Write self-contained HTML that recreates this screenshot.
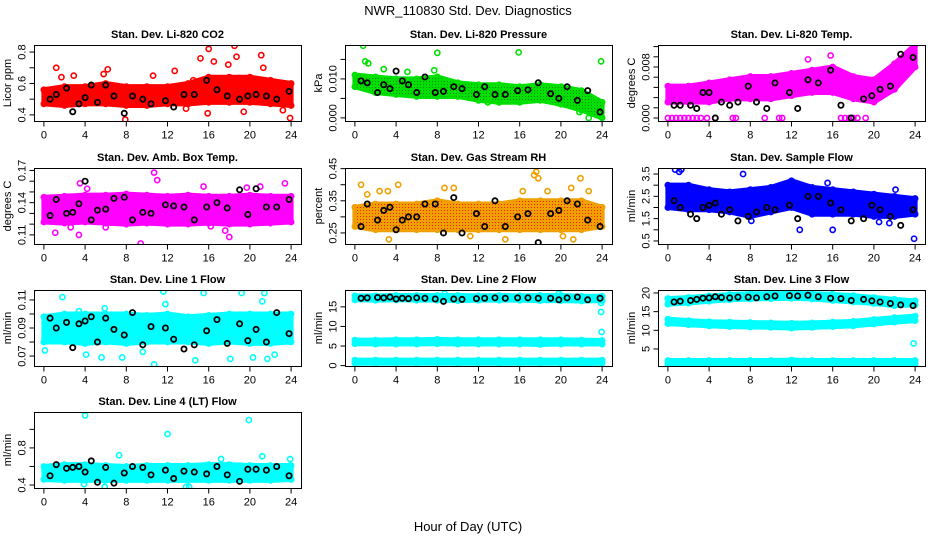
<!DOCTYPE html>
<html><head><meta charset="utf-8">
<style>
html,body{margin:0;padding:0;background:#fff;}
svg{display:block;font-family:"Liberation Sans",Arial,sans-serif;}
</style></head>
<body>
<svg id="chart" width="936" height="540" viewBox="0 0 936 540" xmlns="http://www.w3.org/2000/svg">
<text x="468" y="15" text-anchor="middle" font-size="13">NWR_110830  Std. Dev. Diagnostics</text>
<text x="468" y="531" text-anchor="middle" font-size="13">Hour of Day (UTC)</text>
</svg>
<script>
// ---- shared data ----
const bandHours = [0,2,4,6,8,10,12,14,16,18,20,22,24];
const blkHours = [0.6,1.2,2.2,2.8,3.4,4.0,4.6,5.2,6.0,6.8,7.8,8.6,9.6,10.4,11.8,12.6,13.6,14.6,15.8,16.8,17.8,19.0,19.8,20.6,21.6,22.6,23.8];
const xTicks = [0,4,8,12,16,20,24];

// P1 CO2
const p1Hi = [0.56,0.58,0.58,0.60,0.58,0.58,0.58,0.60,0.64,0.64,0.64,0.62,0.60];
const p1Lo = [0.47,0.46,0.47,0.47,0.46,0.46,0.47,0.47,0.48,0.48,0.48,0.47,0.46];
const p1OutX = [1.2,1.7,2.9,6.2,7.9,10.6,12.7,13.8,15.2,15.9,16.0,16.5,18.5,18.7,19.4,21.1,21.3,23.2,23.9,5.8,14.5,17.9];
const p1OutY = [0.70,0.64,0.65,0.69,0.37,0.65,0.68,0.44,0.76,0.41,0.82,0.74,0.84,0.77,0.42,0.78,0.70,0.43,0.38,0.66,0.62,0.72];
const p1Blk = [0.50,0.53,0.57,0.42,0.47,0.51,0.59,0.48,0.59,0.52,0.41,0.52,0.50,0.47,0.49,0.45,0.53,0.53,0.62,0.56,0.52,0.50,0.52,0.53,0.52,0.50,0.55];
// P2 pressure
const p2Hi = [0.0110,0.0105,0.0100,0.0100,0.0105,0.0090,0.0085,0.0085,0.0080,0.0085,0.0080,0.0070,0.0040];
const p2Lo = [0.0080,0.0065,0.0060,0.0055,0.0055,0.0055,0.0045,0.0040,0.0040,0.0045,0.0035,0.0020,0.0000];
const p2OutX = [0.8,1.0,1.3,2.8,5.1,7.7,8.0,15.9,23.9,21.8,22.7,12.9];
const p2OutY = [0.0185,0.0145,0.0140,0.0125,0.0118,0.0122,0.0167,0.0168,0.0145,0.0015,0.0,0.0040];
const p2Blk = [0.0095,0.0090,0.0065,0.0085,0.0075,0.0120,0.0095,0.0085,0.0065,0.0105,0.0065,0.0068,0.0080,0.0075,0.0060,0.0080,0.0060,0.0060,0.0070,0.0072,0.0090,0.0062,0.0050,0.0080,0.0045,0.0070,0.0015];
// P3 temp
const p3Hi = [0.0050,0.0050,0.0055,0.0060,0.0065,0.0065,0.0070,0.0075,0.0080,0.0065,0.0060,0.0085,0.0115];
const p3Lo = [0.0025,0.0025,0.0025,0.0030,0.0030,0.0030,0.0035,0.0040,0.0040,0.0030,0.0025,0.0045,0.0080];
const p3OutX = [0,0.4,0.8,1.2,1.6,2.0,2.4,2.8,3.2,3.8,4.6,6.3,6.6,9.4,10.8,11.1,16.8,17.2,17.6,18.0,18.4,19.2,15.8,13.6,22.8,23.9];
const p3OutY = [0,0,0,0,0,0,0,0,0,0,0,0,0,0,0,0,0,0,0,0,0,0,0.0098,0.0092,0.0125,0.0110];
const p3Blk = [0.0020,0.0020,0.0020,0.0015,0.0040,0.0040,0.0000,0.0025,0.0020,0.0025,0.0050,0.0025,0.0015,0.0055,0.0040,0.0015,0.0060,0.0055,0.0075,0.0020,0.0000,0.0030,0.0035,0.0045,0.0050,0.0100,0.0095];
// P4 amb box temp
const p4Hi = [0.145,0.146,0.147,0.147,0.148,0.147,0.146,0.147,0.146,0.146,0.147,0.146,0.146];
const p4Lo = [0.122,0.121,0.122,0.121,0.120,0.121,0.120,0.120,0.121,0.120,0.120,0.121,0.122];
const p4OutX = [3.5,4.2,1.1,10.7,11.0,9.4,3.4,18.0,17.6,16.2,21.0,23.4,19.7,6.0,2.6,15.5];
const p4OutY = [0.158,0.153,0.112,0.168,0.161,0.102,0.110,0.108,0.114,0.118,0.155,0.158,0.154,0.117,0.117,0.155];
const p4Blk = [0.128,0.143,0.130,0.131,0.139,0.160,0.124,0.133,0.134,0.144,0.145,0.124,0.131,0.130,0.138,0.137,0.136,0.124,0.136,0.140,0.135,0.152,0.129,0.153,0.136,0.136,0.143];
// P5 RH
const p5Hi = [0.33,0.34,0.34,0.34,0.35,0.34,0.34,0.34,0.35,0.35,0.35,0.35,0.33];
const p5Lo = [0.27,0.26,0.26,0.26,0.26,0.26,0.26,0.26,0.26,0.26,0.26,0.26,0.27];
const p5OutX = [0.6,1.2,2.4,3.2,4.2,3.3,8.7,9.6,11.2,14.6,16.3,17.4,17.6,17.8,18.7,21.0,21.9,22.7,20.2,21.2];
const p5OutY = [0.40,0.37,0.38,0.38,0.40,0.23,0.39,0.39,0.24,0.23,0.38,0.43,0.44,0.42,0.38,0.39,0.42,0.38,0.24,0.23];
const p5Blk = [0.27,0.34,0.29,0.32,0.33,0.26,0.29,0.30,0.30,0.34,0.34,0.25,0.36,0.25,0.31,0.27,0.35,0.27,0.30,0.31,0.22,0.31,0.32,0.35,0.34,0.29,0.27];
// P6 sample flow
const p6Hi = [3.0,3.0,2.8,2.7,2.8,2.9,3.2,2.9,2.8,2.7,2.6,2.5,2.4];
const p6Lo = [2.0,1.9,1.9,1.8,1.6,1.8,2.0,1.7,1.7,1.7,1.6,1.6,1.7];
const p6OutX = [0.7,1.1,1.3,7.3,8.1,12.8,16.0,15.5,23.9,22.1,20.5,21.5];
const p6OutY = [3.7,3.6,3.7,3.5,1.4,1.0,1.0,3.1,0.6,2.8,1.35,1.3];
const p6Blk = [2.3,2.0,1.7,1.5,2.0,2.1,2.2,1.7,1.9,1.4,1.6,1.8,2.0,1.9,2.1,1.5,2.5,2.5,2.2,1.9,1.4,1.5,2.1,1.9,1.6,1.2,1.9];
// P7 line 1
const p7Hi = [0.098,0.100,0.100,0.100,0.100,0.099,0.100,0.098,0.099,0.100,0.100,0.100,0.100];
const p7Lo = [0.080,0.080,0.079,0.080,0.079,0.080,0.080,0.080,0.079,0.080,0.079,0.079,0.080];
const p7OutX = [1.8,3.4,5.9,11.6,11.8,15.5,19.2,21.4,21.2,10.7,5.6,7.6,14.7,18.1,20.3,21.7,0.1,4.1,9.6,22.4];
const p7OutY = [0.112,0.102,0.104,0.116,0.107,0.115,0.115,0.115,0.109,0.064,0.069,0.069,0.067,0.068,0.069,0.068,0.074,0.071,0.073,0.071];
const p7Blk = [0.097,0.090,0.094,0.076,0.093,0.095,0.098,0.080,0.097,0.089,0.085,0.101,0.078,0.091,0.090,0.082,0.075,0.078,0.088,0.096,0.079,0.093,0.081,0.089,0.080,0.101,0.086];
// P8 line 2
const p8TopHi = [17.8,17.8,17.9,17.9,17.9,17.9,17.8,17.9,17.8,17.9,17.9,17.7,17.7];
const p8TopLo = [16.8,16.7,16.8,16.7,16.7,16.6,16.7,16.7,16.7,16.6,16.6,16.5,16.6];
const p8MidHi = [6.5,6.5,6.6,6.6,6.7,6.6,6.6,6.6,6.6,6.6,6.6,6.5,6.4];
const p8MidLo = [5.6,5.5,5.5,5.5,5.6,5.5,5.5,5.5,5.5,5.4,5.5,5.5,5.5];
const p8LowHi = [1.4,1.4,1.4,1.4,1.4,1.4,1.4,1.4,1.4,1.4,1.4,1.4,1.4];
const p8LowLo = [0.6,0.6,0.6,0.6,0.6,0.6,0.6,0.6,0.6,0.6,0.6,0.5,0.6];
const p8OutX = [8.7,19.8,23.9,23.9,23.95];
const p8OutY = [18.4,18.4,16.0,13.7,8.6];
const p8Blk = [17.2,17.3,17.4,17.3,17.5,17.0,17.2,17.1,17.3,17.2,17.0,16.4,17.0,16.9,17.1,17.2,17.3,17.2,17.3,17.3,17.2,17.2,16.8,17.3,17.5,16.8,17.2];
// P9 line 3
const p9TopHi = [18.5,18.8,19.2,19.6,19.8,19.8,19.9,19.8,19.6,19.3,18.8,18.3,17.9];
const p9TopLo = [17.0,17.3,17.8,18.2,18.4,18.5,18.6,18.4,18.0,17.6,17.2,16.6,16.8];
const p9MidHi = [13.0,12.6,12.3,12.2,12.1,12.0,11.9,12.0,12.2,12.4,12.9,13.4,13.8];
const p9MidLo = [11.8,11.5,11.2,11.0,10.9,10.8,10.6,10.8,11.0,11.2,11.7,12.2,12.6];
const p9LowHi = [1.9,1.9,1.9,1.9,1.9,1.9,2.0,1.9,1.9,1.9,1.9,1.9,1.9];
const p9LowLo = [1.0,1.0,1.0,1.0,1.0,1.0,1.0,1.0,1.0,1.0,1.0,0.9,1.0];
const p9OutX = [23.9,23.85,15.9];
const p9OutY = [13.0,6.5,19.6];
const p9Blk = [17.6,17.8,18.0,18.3,18.6,18.7,19.0,18.8,18.7,18.9,18.9,18.7,19.0,19.2,19.3,19.2,19.4,19.0,18.6,18.5,18.0,18.3,17.9,17.6,17.2,16.8,16.6];
// P10 line 4
const p10Hi = [0.60,0.62,0.62,0.61,0.60,0.61,0.61,0.61,0.62,0.62,0.61,0.61,0.61];
const p10Lo = [0.46,0.45,0.45,0.45,0.45,0.45,0.45,0.45,0.45,0.45,0.45,0.45,0.46];
const p10OutX = [4.0,12.0,19.9,7.3,21.2,23.9,5.9,13.8,14.1,3.9,17.2];
const p10OutY = [1.15,0.95,1.10,0.72,0.71,0.68,0.38,0.38,0.38,0.41,0.68];
const p10Blk = [0.50,0.62,0.58,0.59,0.60,0.54,0.66,0.43,0.59,0.42,0.53,0.60,0.59,0.51,0.56,0.47,0.55,0.54,0.52,0.60,0.51,0.44,0.57,0.57,0.56,0.60,0.50];

const panels = [
 {name:'co2',title:'Stan. Dev. Li-820 CO2',ylab:'Licor ppm',L:34,T:45,ymin:0.361,ymax:0.845,ticks:[0.4,0.5,0.6,0.7,0.8],labels:['0.4','','0.6','','0.8'],col:'#ff0000',bands:[[p1Hi,p1Lo]],ox:p1OutX,oy:p1OutY,blk:p1Blk},
 {name:'pressure',title:'Stan. Dev. Li-820 Pressure',ylab:'kPa',L:345,T:45,ymin:-0.0008,ymax:0.0187,ticks:[0,0.005,0.010,0.015],labels:['0.000','','0.010',''],col:'#00e000',bands:[[p2Hi,p2Lo]],ox:p2OutX,oy:p2OutY,blk:p2Blk},
 {name:'temp',title:'Stan. Dev. Li-820 Temp.',ylab:'degrees C',L:658,T:45,ymin:-0.00047,ymax:0.01145,ticks:[0,0.0016,0.0032,0.0048,0.0064,0.008,0.0096,0.0112],labels:['0.000','','','','','0.008','',''],col:'#ff00ff',bands:[[p3Hi,p3Lo]],ox:p3OutX,oy:p3OutY,blk:p3Blk},
 {name:'amb-box-temp',title:'Stan. Dev. Amb. Box Temp.',ylab:'degrees C',L:34,T:168,ymin:0.1015,ymax:0.1723,ticks:[0.11,0.12,0.13,0.14,0.15,0.16,0.17],labels:['0.11','','','0.14','','','0.17'],col:'#ff00ff',bands:[[p4Hi,p4Lo]],ox:p4OutX,oy:p4OutY,blk:p4Blk},
 {name:'gas-rh',title:'Stan. Dev. Gas Stream RH',ylab:'percent',L:345,T:168,ymin:0.2156,ymax:0.452,ticks:[0.25,0.30,0.35,0.40,0.45],labels:['0.25','','0.35','','0.45'],col:'#f0a000',bands:[[p5Hi,p5Lo]],ox:p5OutX,oy:p5OutY,blk:p5Blk},
 {name:'sample-flow',title:'Stan. Dev. Sample Flow',ylab:'ml/min',L:658,T:168,ymin:0.364,ymax:3.77,ticks:[0.5,1,1.5,2,2.5,3,3.5],labels:['0.5','','1.5','','2.5','','3.5'],col:'#0000ff',bands:[[p6Hi,p6Lo]],ox:p6OutX,oy:p6OutY,blk:p6Blk},
 {name:'line1-flow',title:'Stan. Dev. Line 1 Flow',ylab:'ml/min',L:34,T:290,ymin:0.0629,ymax:0.1171,ticks:[0.07,0.08,0.09,0.10,0.11],labels:['0.07','','0.09','','0.11'],col:'#00ffff',bands:[[p7Hi,p7Lo]],ox:p7OutX,oy:p7OutY,blk:p7Blk},
 {name:'line2-flow',title:'Stan. Dev. Line 2 Flow',ylab:'ml/min',L:345,T:290,ymin:-0.1,ymax:19.3,ticks:[0,5,10,15],labels:['0','5','10','15'],col:'#00ffff',bands:[[p8TopHi,p8TopLo],[p8MidHi,p8MidLo],[p8LowHi,p8LowLo]],ox:p8OutX,oy:p8OutY,blk:p8Blk},
 {name:'line3-flow',title:'Stan. Dev. Line 3 Flow',ylab:'ml/min',L:658,T:290,ymin:0.44,ymax:20.8,ticks:[5,10,15,20],labels:['5','10','15','20'],col:'#00ffff',bands:[[p9TopHi,p9TopLo],[p9MidHi,p9MidLo],[p9LowHi,p9LowLo]],ox:p9OutX,oy:p9OutY,blk:p9Blk},
 {name:'line4-flow',title:'Stan. Dev. Line 4 (LT) Flow',ylab:'ml/min',L:34,T:412,ymin:0.368,ymax:1.187,ticks:[0.4,0.6,0.8,1.0],labels:['0.4','','0.8',''],col:'#00ffff',bands:[[p10Hi,p10Lo]],ox:p10OutX,oy:p10OutY,blk:p10Blk}
];

const NS='http://www.w3.org/2000/svg';
const svg=document.getElementById('chart');
const W=267,H=76,XMIN=-0.96,XMAX=24.96;
function mk(tag,attrs,parent){const e=document.createElementNS(NS,tag);for(const k in attrs)e.setAttribute(k,attrs[k]);parent.appendChild(e);return e;}

panels.forEach(p=>{
  const g=mk('g',{},svg);
  
  
  const xs=v=>p.L+(v-XMIN)/(XMAX-XMIN)*W;
  const ys=v=>p.T+H-(v-p.ymin)/(p.ymax-p.ymin)*H;
  const clipId='clip-'+p.name;
  const cp=mk('clipPath',{id:clipId},g);
  mk('rect',{x:p.L,y:p.T,width:W,height:H},cp);
  const plot=mk('g',{'clip-path':'url(#'+clipId+')'},g);
  
  
  // bands
  p.bands.forEach((b,bi)=>{
    const hi=b[0],lo=b[1];
    let pts=[];
    bandHours.forEach((h,i)=>pts.push(xs(h)+','+ys(hi[i])));
    for(let i=bandHours.length-1;i>=0;i--)pts.push(xs(bandHours[i])+','+ys(lo[i]));
    const poly=mk('polygon',{points:pts.join(' '),fill:p.col,stroke:p.col,'stroke-width':5,'stroke-linejoin':'round'},plot);
    
    
    bandHours.forEach((h,i)=>{
      [hi[i],lo[i]].forEach(v=>{
        const c=mk('circle',{cx:xs(h),cy:ys(v),r:2.6,fill:'none',stroke:p.col,'stroke-width':1.6},plot);
        
        
      });
    });
  });
  if(p.name==='pressure'||p.name==='gas-rh'){
    const tex=p.name==='pressure'?'#118811':'#ff2000';
    const pid='pat-'+p.name;
    const pat=mk('pattern',{id:pid,width:3,height:3,patternUnits:'userSpaceOnUse'},g);
    mk('rect',{x:0,y:0,width:1,height:1,fill:tex},pat);
    p.bands.forEach(b=>{
      let pts=[];
      bandHours.forEach((h,i)=>pts.push(xs(h)+','+ys(b[0][i])));
      for(let i=bandHours.length-1;i>=0;i--)pts.push(xs(bandHours[i])+','+ys(b[1][i]));
      const poly=mk('polygon',{points:pts.join(' '),fill:'url(#'+pid+')'},plot);
      
      
    });
  }
  p.ox.forEach((h,i)=>{
    const c=mk('circle',{cx:xs(h),cy:ys(p.oy[i]),r:2.6,fill:'none',stroke:p.col,'stroke-width':1.6},plot);
    
    
  });
  blkHours.forEach((h,i)=>{
    const c=mk('circle',{cx:xs(h),cy:ys(p.blk[i]),r:2.6,fill:'none',stroke:'#000','stroke-width':1.8},plot);
    
    
  });
  // box
  const box=mk('rect',{x:p.L+0.5,y:p.T+0.5,width:W,height:H,fill:'none',stroke:'#000','stroke-width':1},g);
  
  
  // title
  const t=mk('text',{x:p.L+W/2,y:p.T-7,'text-anchor':'middle','font-size':11,'font-weight':'bold'},g);
  t.textContent=p.title;
  
  
  // x axis
  const xb=p.T+H+0.5;
  xTicks.forEach(v=>{
    mk('line',{x1:xs(v),x2:xs(v),y1:xb,y2:xb+5,stroke:'#000'},g);
    const tl=mk('text',{x:xs(v),y:xb+17,'text-anchor':'middle','font-size':11},g);
    tl.textContent=v;
    
    
  });
  // y axis
  const yl=p.L+0.5;
  mk('line',{x1:yl,x2:yl,y1:ys(p.ticks[0]),y2:ys(p.ticks[p.ticks.length-1]),stroke:'#000'},g);
  p.ticks.forEach((v,i)=>{
    mk('line',{x1:yl-5,x2:yl,y1:ys(v),y2:ys(v),stroke:'#000'},g);
    if(p.labels[i]){
      const tl=mk('text',{x:0,y:0,'text-anchor':'middle','font-size':11,transform:'translate('+(yl-9)+','+ys(v)+') rotate(-90)'},g);
      tl.textContent=p.labels[i];
      
      
    }
  });
  const ya=mk('text',{x:0,y:0,'text-anchor':'middle','font-size':11,transform:'translate('+(p.L-23)+','+(p.T+H/2)+') rotate(-90)'},g);
  ya.textContent=p.ylab;
  
  
});
</script>
</body></html>
